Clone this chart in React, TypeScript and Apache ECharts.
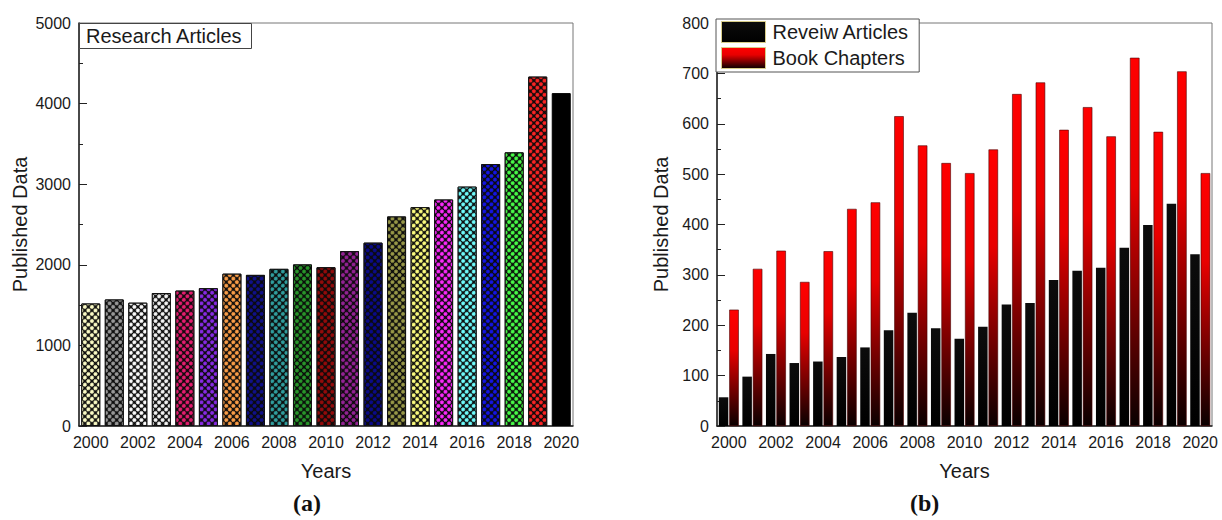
import React, { useEffect, useRef } from "react";
import * as echarts from "echarts";

const years = ["2000", "2001", "2002", "2003", "2004", "2005", "2006", "2007", "2008", "2009", "2010", "2011", "2012", "2013", "2014", "2015", "2016", "2017", "2018", "2019", "2020"];
const researchArticles = [1520, 1570, 1530, 1650, 1680, 1710, 1890, 1875, 1950, 2005, 1970, 2170, 2275, 2600, 2715, 2810, 2970, 3250, 3395, 4335, 4130];
const researchColors = ["#ffffc8", "#9a9a9a", "#ffffff", "#f6f6f6", "#e81c70", "#8a2ae8", "#ffa048", "#10108c", "#30a0a0", "#28982a", "#960a0a", "#962296", "#0a0a8c", "#9a9a48", "#ffff80", "#ff28ff", "#70ffff", "#1414e8", "#48ff48", "#ff2424", "#000000"];
const reviewArticles = [57, 98, 143, 125, 128, 137, 156, 190, 225, 194, 173, 197, 241, 244, 290, 308, 314, 354, 399, 441, 341];
const bookChapters = [231, 312, 348, 286, 347, 431, 444, 615, 557, 522, 502, 549, 659, 682, 588, 633, 575, 731, 584, 704, 502];
const leftMax = 5000;
const leftStep = 1000;
const rightMax = 800;
const rightStep = 100;

const FONT = "'Liberation Sans', Arial, sans-serif";
const TXT = "#1a1a1a";

export default function App() {
  const ref = useRef<HTMLDivElement>(null);
  useEffect(() => {
    document.body.style.margin = "0";
    if (!ref.current) return;
    const chart = echarts.init(ref.current, undefined, { renderer: "svg" });

    const xAxisBase = (gridIndex: number) => ({
      gridIndex,
      type: "category",
      data: years,
      boundaryGap: true,
      axisLine: { lineStyle: { color: "#222", width: 1.5 } },
      axisTick: { inside: true, alignWithLabel: true, length: 4, lineStyle: { color: "#222" } },
      axisLabel: { interval: 1, fontSize: 16, color: TXT, margin: 8, fontFamily: FONT },
      name: "Years",
      nameLocation: "middle",
      nameGap: 35,
      nameTextStyle: { fontSize: 20, color: TXT, fontFamily: FONT },
    });
    const yAxisBase = (gridIndex: number, max: number, step: number, gap: number) => ({
      gridIndex,
      type: "value",
      min: 0,
      max,
      interval: step,
      axisLine: { show: true, lineStyle: { color: "#222", width: 1.5 } },
      axisTick: { show: true, inside: true, length: 8, lineStyle: { color: "#222" } },
      minorTick: { show: true, splitNumber: 2, length: 4, lineStyle: { color: "#222" } },
      splitLine: { show: false },
      axisLabel: { fontSize: 16, color: TXT, margin: 8, fontFamily: FONT, formatter: (v: number) => String(v) },
      name: "Published Data",
      nameLocation: "middle",
      nameGap: gap,
      nameRotate: 90,
      nameTextStyle: { fontSize: 20, color: TXT, fontFamily: FONT },
    });

    const option: any = {
      animation: false,
      backgroundColor: "#ffffff",
      grid: [
        { left: 79, top: 23, width: 494, height: 403, show: true, borderColor: "#777", borderWidth: 1 },
        { left: 717, top: 23, width: 495, height: 403, show: true, borderColor: "#777", borderWidth: 1 },
      ],
      title: {
        text: "Research Articles",
        left: 79,
        top: 23,
        padding: [3, 9, 3, 7],
        borderColor: "#444",
        borderWidth: 1,
        backgroundColor: "#fff",
        textStyle: { fontSize: 20, fontWeight: "normal", color: TXT, fontFamily: FONT },
      },
      legend: {
        orient: "vertical",
        left: 716,
        top: 19,
        padding: [2, 10, 3, 5],
        itemGap: 4,
        itemWidth: 44,
        itemHeight: 21,
        borderColor: "#555",
        borderWidth: 1,
        backgroundColor: "#fff",
        textStyle: { fontSize: 20, color: TXT, fontFamily: FONT, padding: [0, 0, 0, 2] },
        data: [
          { name: "Reveiw Articles", icon: "rect", itemStyle: { borderColor: "#d8cc88", borderWidth: 1 } },
          { name: "Book Chapters", icon: "rect", itemStyle: { borderColor: "#d8cc88", borderWidth: 1 } },
        ],
      },
      xAxis: [xAxisBase(0), xAxisBase(1)],
      yAxis: [yAxisBase(0, leftMax, leftStep, 49), yAxisBase(1, rightMax, rightStep, 46)],
      series: [
        {
          name: "Research Articles",
          type: "bar",
          xAxisIndex: 0,
          yAxisIndex: 0,
          barWidth: 19,
          data: researchArticles.map((v, i) => ({
            value: v,
            itemStyle:
              i === researchArticles.length - 1
                ? { color: "#000", borderColor: "#000", borderWidth: 1 }
                : {
                    color: "#0a0a0a",
                    borderColor: "#111",
                    borderWidth: 1,
                    decal: {
                      symbol: "circle",
                      symbolSize: 1,
                      color: researchColors[i],
                      dashArrayX: [3.2, 0.9],
                      dashArrayY: [3.2, 0.9],
                      rotation: Math.PI / 4,
                    },
                  },
          })),
        },
        {
          name: "Reveiw Articles",
          type: "bar",
          xAxisIndex: 1,
          yAxisIndex: 1,
          barWidth: 9.5,
          barGap: "10%",
          itemStyle: {
            color: new echarts.graphic.LinearGradient(0, 0, 0, 1, [
              { offset: 0, color: "#0c0c0c" },
              { offset: 1, color: "#000000" },
            ]),
          },
          data: reviewArticles,
        },
        {
          name: "Book Chapters",
          type: "bar",
          xAxisIndex: 1,
          yAxisIndex: 1,
          barWidth: 9.5,
          barGap: "10%",
          itemStyle: {
            color: new echarts.graphic.LinearGradient(0, 0, 0, 1, [
              { offset: 0, color: "#ff0000" },
              { offset: 0.35, color: "#e80000" },
              { offset: 1, color: "#0a0000" },
            ]),
            borderColor: "#4a0000",
            borderWidth: 0.6,
          },
          data: bookChapters,
        },
      ],
      graphic: [
        {
          type: "text",
          left: 293,
          top: 491,
          style: { text: "(a)", fontSize: 24, fontWeight: "bold", fill: "#111", fontFamily: "'Liberation Serif', 'DejaVu Serif', serif" },
        },
        {
          type: "text",
          left: 910,
          top: 491,
          style: { text: "(b)", fontSize: 24, fontWeight: "bold", fill: "#111", fontFamily: "'Liberation Serif', 'DejaVu Serif', serif" },
        },
      ],
    };
    chart.setOption(option);
    return () => chart.dispose();
  }, []);
  return <div ref={ref} style={{ width: 1222, height: 520 }} />;
}
